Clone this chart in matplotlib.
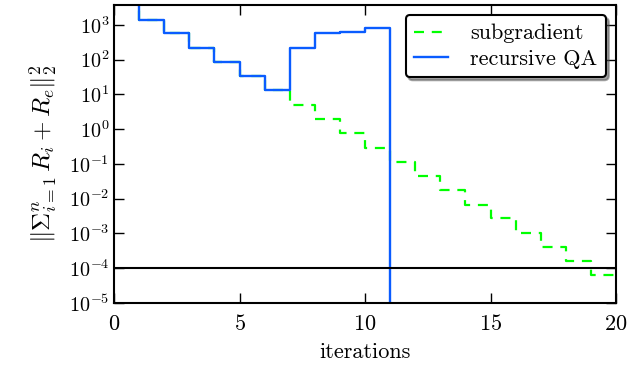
import numpy as np
import matplotlib
matplotlib.use("Agg")
import matplotlib.pyplot as plt
from matplotlib.ticker import FuncFormatter

plt.rcParams['font.family'] = 'serif'
plt.rcParams['font.serif'] = ['cmr10']
plt.rcParams['mathtext.fontset'] = 'cm'
plt.rcParams['axes.formatter.use_mathtext'] = True
plt.rcParams['font.size'] = 16

# residual norm per iteration
it_qa = [0, 1, 2, 3, 4, 5, 6, 7, 8, 9, 10, 11]
res_qa = [5e3, 1390, 562, 214, 86, 32.6, 12.9, 214, 562, 630, 800, 1e-6]

it_sg = list(range(21))
res_sg = [5e3, 1390, 562, 214, 86, 32.6, 12.9, 4.9, 1.9, 0.75, 0.29, 0.114,
          0.044, 0.0176, 0.0068, 0.0027, 0.00104, 4.1e-4, 1.6e-4, 6.3e-5, 6.3e-5]

tol = 1e-4

fig = plt.figure(figsize=(6.34, 3.70), dpi=100)
ax = fig.add_axes([0.18, 0.181, 0.7916, 0.8055])

ax.plot(it_sg, res_sg, drawstyle='steps-post', color='#00ff00', lw=1.6,
        ls=(0, (4.5, 3.5)), label='subgradient')
ax.plot(it_qa, res_qa, drawstyle='steps-post', color='#0a5cff', lw=1.7,
        label='recursive QA')
ax.axhline(tol, color='k', lw=1.5)

ax.set_yscale('log')
ax.set_xlim(0, 20)
ax.set_ylim(1e-5, 3700)
ax.set_xticks([0, 5, 10, 15, 20])
ax.set_yticks([10.0**k for k in range(-5, 4)])
ax.yaxis.set_major_formatter(FuncFormatter(lambda v, p: r'$10^{%d}$' % round(np.log10(v))))
ax.tick_params(which='both', direction='in', top=True, right=True)
ax.tick_params(which='major', length=7, width=1)
ax.tick_params(which='minor', length=4, width=1)
ax.tick_params(axis='x', pad=8)
ax.tick_params(axis='y', labelsize=14.5)
for s in ax.spines.values():
    s.set_linewidth(1.5)

ax.set_xlabel('iterations', labelpad=6)
ax.set_ylabel(r'$\|\Sigma_{i=1}^{n}\, R_i + R_e\|_2^2$', fontsize=18, labelpad=6)

leg = ax.legend(loc='upper right', fancybox=True, shadow=True,
                handlelength=1.5, handletextpad=1.0, borderaxespad=0.45,
                borderpad=0.4, labelspacing=0.25)
leg.get_frame().set_edgecolor('k')
leg.get_frame().set_linewidth(1.5)

fig.savefig('out.png', dpi=100)
